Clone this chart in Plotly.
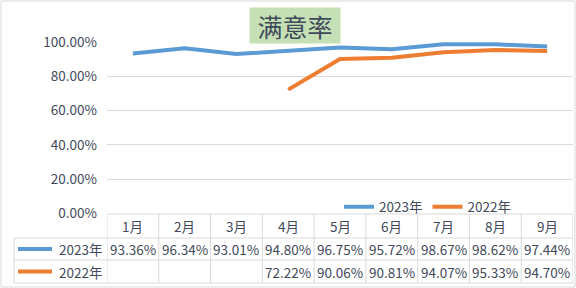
import plotly.graph_objects as go

months = ["1月", "2月", "3月", "4月", "5月", "6月", "7月", "8月", "9月"]
series_names = ["2023年", "2022年"]
rate_2023 = [93.36, 96.34, 93.01, 94.80, 96.75, 95.72, 98.67, 98.62, 97.44]
rate_2022 = [None, None, None, 72.22, 90.06, 90.81, 94.07, 95.33, 94.70]
y_ticks = [0, 20, 40, 60, 80, 100]
y_tick_labels = ["0.00%", "20.00%", "40.00%", "60.00%", "80.00%", "100.00%"]
title_text = "满意率"

W, H = 576, 288
BLUE = "#5B9BD5"
ORANGE = "#ED7D31"
TXT = "#424A5A"
GRID = "#D9D9D9"
FONT = "Noto Sans CJK SC"
FS = 13.5

def px_x(p):
    return p / W

def px_y(p):
    return 1 - p / H

fig = go.Figure()
for name, vals, col in [(series_names[0], rate_2023, BLUE), (series_names[1], rate_2022, ORANGE)]:
    fig.add_trace(go.Scatter(x=months, y=vals, name=name, mode="lines",
                             line=dict(color=col, width=4), cliponaxis=False,
                             connectgaps=False))

x_left, x_right = 107, 573
y_top_px, y_zero_px = 42, 213.5

fig.update_layout(
    width=W, height=H, margin=dict(l=0, r=0, t=0, b=0, autoexpand=False),
    paper_bgcolor="white", plot_bgcolor="white",
    font=dict(family=FONT, size=FS, color=TXT),
    xaxis=dict(domain=[px_x(x_left), px_x(x_right)], range=[-0.5, len(months) - 0.5],
               showticklabels=False, showgrid=False, zeroline=False, showline=False,
               type="category", fixedrange=True, automargin=False),
    yaxis=dict(domain=[px_y(y_zero_px), px_y(y_top_px)], range=[0, 100],
               tickvals=y_ticks, ticktext=y_tick_labels,
               showgrid=True, gridcolor=GRID, gridwidth=1, zeroline=False,
               showline=False, ticklabelstandoff=9, automargin=False,
               tickfont=dict(family=FONT, size=FS, color=TXT)),
    legend=dict(orientation="h", x=px_x(339), y=px_y(207), xanchor="left", yanchor="middle",
                bgcolor="rgba(0,0,0,0)", font=dict(family=FONT, size=FS, color=TXT),
                itemwidth=30, traceorder="normal"),
    showlegend=True,
)

shapes = []
# outer border
shapes.append(dict(type="rect", xref="paper", yref="paper",
                   x0=px_x(1), x1=px_x(575), y0=px_y(287), y1=px_y(1),
                   line=dict(color=GRID, width=1), fillcolor="rgba(0,0,0,0)", layer="below"))

row_tops = [214, 238, 260, 283]
n = len(months)
# horizontal lines of table
shapes.append(dict(type="line", xref="x", yref="paper", x0=-0.5, x1=n - 0.5,
                   y0=px_y(row_tops[0]), y1=px_y(row_tops[0]), line=dict(color=GRID, width=1)))
for r in row_tops[1:]:
    shapes.append(dict(type="line", xref="paper", yref="paper", x0=px_x(14), x1=px_x(x_right),
                       y0=px_y(r), y1=px_y(r), line=dict(color=GRID, width=1)))
# vertical lines of table
for i in range(n + 1):
    shapes.append(dict(type="line", xref="x", yref="paper", x0=i - 0.5, x1=i - 0.5,
                       y0=px_y(row_tops[0]), y1=px_y(row_tops[-1]), line=dict(color=GRID, width=1)))
shapes.append(dict(type="line", xref="paper", yref="paper", x0=px_x(14), x1=px_x(14),
                   y0=px_y(row_tops[1]), y1=px_y(row_tops[-1]), line=dict(color=GRID, width=1)))

annotations = []
# title
annotations.append(dict(text=title_text, xref="paper", yref="paper", x=px_x(295), y=px_y(25.5),
                        xanchor="center", yanchor="middle", showarrow=False,
                        bgcolor="#C5E0B4", width=88, height=33,
                        font=dict(family=FONT, size=25, color="#3E4A5A")))

row_centers = [(row_tops[i] + row_tops[i + 1]) / 2 for i in range(3)]
for i, m in enumerate(months):
    annotations.append(dict(text=m, xref="x", yref="paper", x=m, y=px_y(row_centers[0]),
                            showarrow=False, xanchor="center", yanchor="middle"))
for row, vals in enumerate([rate_2023, rate_2022]):
    for m, v in zip(months, vals):
        if v is None:
            continue
        annotations.append(dict(text=f"{v:.2f}%", xref="x", yref="paper", x=m,
                                y=px_y(row_centers[row + 1]), showarrow=False,
                                xanchor="center", yanchor="middle"))

for row, (name, col) in enumerate([(series_names[0], BLUE), (series_names[1], ORANGE)]):
    yc = px_y(row_centers[row + 1])
    shapes.append(dict(type="line", xref="paper", yref="paper", x0=px_x(18), x1=px_x(52),
                       y0=yc, y1=yc, line=dict(color=col, width=4)))
    annotations.append(dict(text=name, xref="paper", yref="paper", x=px_x(57), y=yc,
                            showarrow=False, xanchor="left", yanchor="middle"))

fig.update_layout(shapes=shapes, annotations=annotations)
fig.write_html("out.html")
